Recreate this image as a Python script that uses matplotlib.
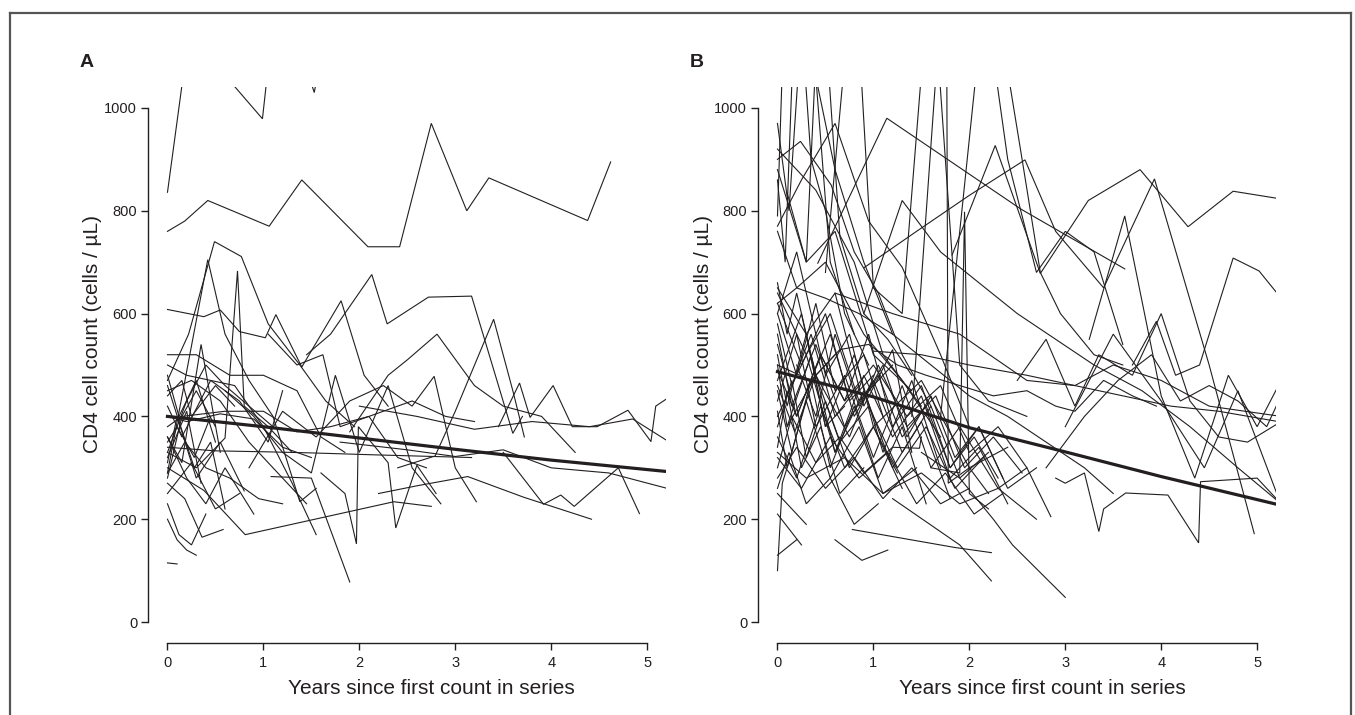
import matplotlib
matplotlib.use("Agg")
import matplotlib.pyplot as plt
from matplotlib.lines import Line2D

# ---------------- data: panel A (years since first count, CD4 count) ----------------
a_years = [
    [0.00, 0.30, 0.50, 0.99, 1.15, 1.53, 1.70],
    [0.00, 0.18, 0.42, 1.06, 1.40, 2.09, 2.42, 2.75, 3.12, 3.35, 4.38, 4.62],
    [0.00, 0.22, 0.49, 0.77, 1.05, 1.38, 1.65, 1.95],
    [0.00, 0.42, 0.60, 0.85, 1.10, 1.38, 1.55],
    [0.00, 0.30, 0.60, 0.73, 0.80, 1.05, 1.30],
    [0.00, 0.38, 0.55, 0.75, 1.02, 1.13, 1.40, 1.81, 2.05, 2.30],
    [1.45, 1.70, 2.13, 2.29, 2.72, 3.17, 3.60, 3.70],
    [3.45, 3.67, 3.78, 4.02, 4.22, 4.48, 4.80, 5.04, 5.09, 5.25],
    [2.40, 2.79, 3.00, 3.40, 3.60, 3.72],
    [1.90, 2.30, 2.50, 2.81, 3.20, 3.50, 3.90, 4.25],
    [2.00, 2.60, 3.20, 3.80, 4.40, 4.85, 5.25],
    [1.80, 2.50, 3.00, 3.50, 4.00, 4.60, 5.25],
    [0.00, 0.50, 1.06, 1.50, 2.20, 3.17],
    [2.20, 2.60, 3.13, 3.71, 4.42],
    [3.50, 3.92, 4.10, 4.24, 4.70, 4.92],
    [0.00, 0.38, 0.81, 2.36, 2.75],
    [1.08, 1.50, 1.90],
    [1.60, 1.85, 1.97, 1.99, 2.30, 2.38, 2.60, 2.80],
    [0.60, 0.90, 1.20, 1.50, 1.75, 2.00, 2.30, 2.55, 2.85],
    [0.00, 0.30, 0.65, 1.00, 1.35, 1.60, 1.85],
    [0.00, 0.15, 0.60, 1.00, 1.35, 1.70, 2.10, 2.40, 2.55, 2.90, 3.20],
    [0.00, 0.25, 0.55, 0.85, 1.10, 1.45],
    [0.00, 0.20, 0.45, 0.70, 1.00, 1.30, 1.55],
    [0.00, 0.15, 0.35, 0.55],
    [0.00, 0.10, 0.20, 0.30],
    [0.00, 0.10],
    [0.00, 0.12, 0.25, 0.40],
    [0.00, 0.18, 0.36, 0.58],
    [0.00, 0.20, 0.40, 0.60, 0.90],
    [0.00, 0.15, 0.45, 0.75, 1.05, 1.20],
    [0.00, 0.10, 0.30, 0.55, 0.80],
    [0.00, 0.25, 0.50, 0.75],
    [0.00, 0.20, 0.40, 0.60, 0.85, 1.10],
    [0.00, 0.12, 0.30, 0.50],
    [0.00, 0.18, 0.40, 0.65, 0.95, 1.20],
    [0.00, 0.20, 0.55, 0.90, 1.20, 1.50],
    [1.05, 1.35, 1.62, 1.80, 2.10, 2.40, 2.70],
    [0.85, 1.20, 1.55, 1.90, 2.25, 2.55, 2.78, 3.00, 3.22],
    [0.00, 0.15, 0.25, 0.50, 0.70],
    [0.00, 0.10, 0.28, 0.45],
    [0.00, 0.15, 0.30, 0.50],
    [0.00, 0.12, 0.28, 0.45, 0.60],
    [0.00, 0.20, 0.35],
]
a_counts = [
    [836, 1250, 1085, 979, 1250, 1030, 1200],
    [760, 780, 820, 770, 860, 730, 730, 970, 800, 864, 781, 895],
    [470, 560, 740, 711, 580, 500, 430, 380],
    [290, 705, 560, 470, 400, 234, 260],
    [330, 300, 358, 683, 420, 380, 330],
    [608, 594, 607, 565, 553, 598, 496, 625, 480, 420],
    [520, 560, 676, 580, 632, 634, 367, 400],
    [380, 465, 398, 460, 380, 380, 412, 351, 420, 440],
    [300, 323, 410, 589, 450, 360],
    [370, 480, 510, 560, 460, 420, 400, 330],
    [420, 400, 375, 390, 380, 395, 348],
    [350, 335, 322, 335, 300, 290, 258],
    [340, 333, 331, 329, 325, 320],
    [250, 265, 283, 243, 200],
    [330, 229, 247, 225, 300, 211],
    [300, 256, 170, 234, 225],
    [283, 280, 78],
    [290, 250, 152, 380, 310, 183, 305, 250],
    [450, 400, 330, 290, 480, 330, 460, 300, 230],
    [520, 520, 480, 480, 450, 360, 330],
    [380, 400, 410, 410, 370, 380, 400, 420, 430, 400, 390],
    [450, 470, 430, 350, 300, 230],
    [500, 480, 470, 460, 380, 270, 170],
    [360, 310, 540, 330],
    [200, 160, 140, 130],
    [115, 113],
    [230, 170, 150, 210],
    [270, 240, 165, 180],
    [360, 280, 230, 300, 210],
    [420, 360, 470, 430, 350, 450],
    [310, 400, 280, 350, 255],
    [250, 310, 220, 250],
    [330, 430, 500, 460, 420, 380],
    [480, 400, 470, 350],
    [290, 350, 300, 280, 240, 230],
    [400, 390, 405, 395, 340, 320],
    [560, 500, 520, 380, 400, 320, 300],
    [300, 410, 360, 430, 460, 420, 478, 300, 234],
    [440, 470, 400, 460, 420],
    [350, 380, 320, 400],
    [280, 400, 450, 380],
    [460, 390, 300, 350, 220],
    [320, 410, 270],
]
a_mean_years = [0, 1, 2, 3, 4, 5.25]
a_mean_counts = [400, 380, 358, 336, 315, 292]

# ---------------- data: panel B ----------------
b_years = [
    [0.00, 0.08, 0.30, 0.60, 0.90, 1.20],
    [0.00, 0.24, 0.56, 0.80, 1.05, 1.30, 1.60],
    [0.00, 0.12, 0.30, 0.55, 0.80],
    [0.10, 0.30, 0.45, 0.65, 0.90, 1.15, 1.40],
    [0.00, 0.25, 0.60, 0.95, 1.30, 1.70, 2.00],
    [0.42, 1.14, 2.54, 3.62],
    [0.90, 1.45, 2.00, 2.58, 2.90, 3.40, 3.93, 4.50, 4.97],
    [1.82, 2.27, 2.74, 3.24, 3.78, 4.28, 4.75, 5.25],
    [3.70, 3.95, 4.15, 4.40, 4.75, 5.02, 5.25],
    [1.00, 1.50, 2.00, 2.60, 3.10, 3.60, 4.10, 4.60, 5.25],
    [0.60, 1.20, 1.90, 2.60, 3.10, 3.50, 4.00, 4.50, 5.25],
    [3.00, 3.50, 4.00, 4.45, 4.80, 5.25],
    [3.25, 3.62, 4.00, 4.35, 4.70, 5.00, 5.25],
    [2.90, 3.00, 3.20, 3.35, 3.40, 3.63, 4.07, 4.39, 4.41, 5.00, 5.25],
    [1.50, 1.90, 2.25, 2.45, 3.00],
    [1.20, 1.90, 2.23],
    [0.78, 1.85, 2.23],
    [0.60, 0.88, 1.15],
    [0.00, 0.20],
    [0.00, 0.05, 0.15],
    [0.00, 0.25],
    [0.00, 0.30],
    [1.40, 1.76, 1.78, 2.00, 2.20],
    [1.60, 1.90, 1.95, 2.00, 2.20],
    [1.70, 2.20, 2.55, 2.74, 2.95, 3.30, 3.60],
    [0.50, 0.80, 1.00, 1.30, 1.60, 1.90, 2.20, 2.60],
    [0.00, 0.20, 0.50, 0.75, 1.00, 1.50, 2.00, 2.40],
    [0.00, 0.30, 0.60, 0.90, 1.20, 1.40],
    [0.00, 0.15, 0.40, 0.70, 1.00, 1.30, 1.60, 1.90, 2.20],
    [0.00, 0.20, 0.45, 0.70, 0.95, 1.20, 1.50, 1.80, 2.10, 2.40, 2.70],
    [0.00, 0.10, 0.35, 0.60, 0.90, 1.20, 1.50, 1.80],
    [0.00, 0.25, 0.50, 0.80, 1.10, 1.40, 1.70],
    [0.00, 0.15, 0.35, 0.55, 0.80, 1.05, 1.30, 1.55],
    [0.00, 0.20, 0.40, 0.70, 1.00, 1.30, 1.60, 1.90, 2.30, 2.60, 2.85],
    [0.00, 0.10, 0.30, 0.55, 0.85, 1.10, 1.45],
    [0.00, 0.30, 0.60, 0.90, 1.20, 1.50, 1.80, 2.10, 2.40],
    [0.00, 0.15, 0.30, 0.50, 0.75, 1.00, 1.25],
    [0.00, 0.20, 0.45, 0.70, 1.00, 1.30],
    [0.00, 0.10, 0.25, 0.45, 0.65, 0.90],
    [0.00, 0.25, 0.55, 0.85, 1.15, 1.45, 1.75, 2.05, 2.35],
    [0.00, 0.15, 0.40, 0.65, 0.90, 1.20, 1.48, 1.50],
    [0.00, 0.20, 0.50, 0.80, 1.10, 1.40, 1.70, 2.00],
    [0.00, 0.12, 0.30, 0.55, 0.80, 1.05],
    [0.00, 0.30, 0.70, 1.10, 1.50, 1.90, 2.30, 2.70],
    [0.00, 0.18, 0.40, 0.65, 0.95, 1.25, 1.55, 1.85, 2.15],
    [0.00, 0.10, 0.30, 0.50, 0.70],
    [0.00, 0.20, 0.40, 0.60, 0.90, 1.10],
    [0.00, 0.25, 0.50, 0.75, 1.00],
    [0.00, 0.15, 0.35, 0.60, 0.85],
    [0.00, 0.10, 0.20, 0.40, 0.60],
    [0.20, 0.40, 0.60, 0.85, 1.10, 1.35, 1.60, 1.85, 2.10, 2.35],
    [0.30, 0.55, 0.80, 1.05, 1.30, 1.55, 1.80, 2.05, 2.30],
    [0.10, 0.40, 0.75, 1.05, 1.35, 1.65, 1.95, 2.25, 2.55],
    [0.00, 0.20, 0.45, 0.70, 1.00, 1.35, 1.70, 2.00, 2.30, 2.60],
    [0.00, 0.30, 0.55, 0.85, 1.20],
    [0.00, 0.08, 0.20, 0.35, 0.50, 0.70, 0.95],
    [0.00, 0.35, 0.65, 0.95, 1.25, 1.55, 1.90, 2.25, 2.60, 2.90, 3.10, 3.40, 3.70, 3.95],
    [2.50, 2.80, 3.10, 3.35, 3.70, 4.00, 4.30, 4.60, 4.90, 5.25],
    [2.80, 3.20, 3.55, 3.90, 4.20, 4.50, 4.80, 5.10, 5.25],
    [0.00, 0.20, 0.50, 0.85, 1.20, 1.60, 2.00, 2.40, 2.80, 3.20, 3.50],
    [0.90, 1.30, 1.70, 2.10, 2.50, 2.90, 3.30, 3.80, 4.30, 4.80, 5.25],
    [2.10, 2.40, 2.70, 3.00, 3.30, 3.60],
    [0.00, 0.30, 0.60, 1.00, 1.40],
    [0.00, 0.20, 0.50, 0.90, 1.30, 1.70],
    [0.00, 0.40, 0.80, 1.10, 1.50],
]
b_counts = [
    [790, 1250, 1150, 880, 700, 560],
    [900, 935, 850, 720, 640, 520, 420],
    [970, 800, 1300, 700, 560],
    [835, 700, 1300, 750, 600, 550, 480],
    [770, 860, 970, 780, 690, 520, 380],
    [698, 980, 803, 687],
    [689, 760, 830, 899, 760, 650, 862, 500, 172],
    [714, 927, 678, 820, 880, 769, 838, 823],
    [500, 585, 480, 500, 708, 683, 630],
    [527, 520, 500, 480, 460, 440, 420, 410, 389],
    [640, 600, 560, 470, 460, 500, 470, 420, 400],
    [380, 560, 430, 300, 450, 228],
    [550, 790, 440, 280, 480, 380, 470],
    [280, 270, 290, 176, 220, 251, 247, 154, 273, 280, 230],
    [330, 280, 200, 150, 48],
    [240, 150, 80],
    [180, 145, 135],
    [160, 120, 140],
    [130, 160],
    [100, 270, 330],
    [210, 150],
    [250, 190],
    [400, 1350, 270, 300, 250],
    [300, 290, 798, 250, 220],
    [400, 1300, 900, 680, 600, 520, 500],
    [680, 1300, 650, 600, 1300, 500, 430, 400],
    [600, 720, 480, 560, 380, 470, 300, 340],
    [650, 560, 640, 420, 530, 330],
    [560, 420, 540, 380, 470, 330, 420, 280, 330],
    [540, 400, 520, 430, 560, 380, 460, 300, 380, 260, 300],
    [500, 380, 520, 330, 450, 300, 390, 240],
    [470, 600, 380, 520, 330, 470, 300],
    [450, 330, 470, 300, 420, 280, 380, 230],
    [430, 560, 380, 480, 320, 460, 300, 380, 260, 300, 205],
    [410, 300, 430, 280, 380, 250, 300],
    [400, 520, 330, 480, 360, 440, 280, 340, 230],
    [380, 470, 320, 430, 300, 380, 290],
    [360, 280, 420, 300, 380, 260],
    [340, 450, 300, 380, 250, 300],
    [320, 260, 360, 280, 330, 230, 290, 210, 250],
    [300, 400, 310, 360, 290, 340, 338, 360],
    [280, 340, 260, 320, 240, 300, 230, 260],
    [260, 330, 230, 280, 190, 230],
    [330, 280, 320, 250, 290, 230, 260, 200],
    [460, 370, 480, 350, 420, 300, 380, 260, 320],
    [520, 420, 560, 380, 420],
    [600, 480, 620, 450, 520, 400],
    [620, 500, 600, 430, 480],
    [580, 460, 560, 400, 460],
    [660, 560, 640, 480, 520],
    [500, 400, 560, 420, 500, 360, 440, 320, 380, 280],
    [450, 560, 400, 480, 360, 420, 300, 360, 280],
    [380, 480, 360, 500, 380, 440, 300, 360, 290],
    [490, 400, 520, 430, 500, 400, 460, 330, 380, 300],
    [640, 520, 600, 430, 500],
    [860, 700, 1300, 900, 800, 600, 500],
    [500, 470, 530, 540, 500, 480, 460, 440, 450, 420, 410, 470, 440, 420],
    [470, 550, 420, 520, 480, 600, 430, 360, 350, 390],
    [300, 400, 470, 520, 430, 460, 430, 380, 440],
    [620, 650, 630, 600, 560, 500, 440, 400, 350, 300, 250],
    [600, 820, 720, 660, 600, 550, 500, 450, 380, 300, 230],
    [1300, 900, 680, 760, 720, 540],
    [880, 700, 760, 520, 450],
    [760, 650, 700, 560, 470, 360],
    [920, 840, 700, 520, 420],
]
b_mean_years = [0, 1, 2, 3, 4, 5.25]
b_mean_counts = [487, 438, 378, 331, 283, 227]

# ---------------- drawing ----------------
INK = "#231f20"
W, H = 1355, 715
fig = plt.figure(figsize=(W / 100, H / 100), dpi=100)
plt.rcParams["font.family"] = ["Liberation Sans", "DejaVu Sans"]


def make_axes(left_px, label, years, counts, mean_x, mean_y, ylab_x, xlab_x):
    right_px = left_px + 518
    bottom_px, top_px = 642.6, 87.4
    ax = fig.add_axes([left_px / W, 1 - bottom_px / H,
                       (right_px - left_px) / W, (bottom_px - top_px) / H])
    for xs, ys in zip(years, counts):
        ax.plot(xs, ys, color=INK, lw=0.8, solid_joinstyle="miter")
    ax.plot(mean_x, mean_y, color=INK, lw=2.3)
    ax.set_xlim(-0.2, 5.2)
    ax.set_ylim(-40, 1040)
    for s in ("top", "right"):
        ax.spines[s].set_visible(False)
    ax.spines["left"].set_bounds(0, 1000)
    ax.spines["bottom"].set_bounds(0, 5)
    for s in ("left", "bottom"):
        ax.spines[s].set_color(INK)
        ax.spines[s].set_linewidth(1.0)
    ax.set_xticks([0, 1, 2, 3, 4, 5])
    ax.set_yticks([0, 200, 400, 600, 800, 1000])
    ax.tick_params(direction="out", length=5, width=1.0, color=INK,
                   labelcolor=INK, labelsize=10.5)
    ax.tick_params(axis="x", pad=5)
    ax.tick_params(axis="y", pad=3)
    ax.patch.set_visible(False)
    fig.text(ylab_x / W, 1 - 334 / H, "CD4 cell count (cells / µL)",
             rotation=90, ha="center", va="center", fontsize=15, color=INK)
    fig.text(xlab_x / W, 1 - 689 / H, "Years since first count in series",
             ha="center", va="center", fontsize=15, color=INK)
    fig.text((left_px - 69) / W, 1 - 67 / H, label, ha="left",
             va="baseline", fontsize=14, fontweight="bold", color=INK)
    return ax


make_axes(148.3, "A", a_years, a_counts, a_mean_years, a_mean_counts, 92, 431)
make_axes(758.3, "B", b_years, b_counts, b_mean_years, b_mean_counts, 704, 1042)

# outer frame (open at the bottom)
fc = "#555555"
fx0, fx1, fy0 = 9.7 / W, 1351 / W, 1 - 13 / H
fig.add_artist(Line2D([fx0, fx0], [0, fy0], color=fc, lw=1.6, transform=fig.transFigure))
fig.add_artist(Line2D([fx0, fx1], [fy0, fy0], color=fc, lw=1.6, transform=fig.transFigure))
fig.add_artist(Line2D([fx1, fx1], [0, fy0], color=fc, lw=1.6, transform=fig.transFigure))

fig.savefig("out.png", dpi=100)
